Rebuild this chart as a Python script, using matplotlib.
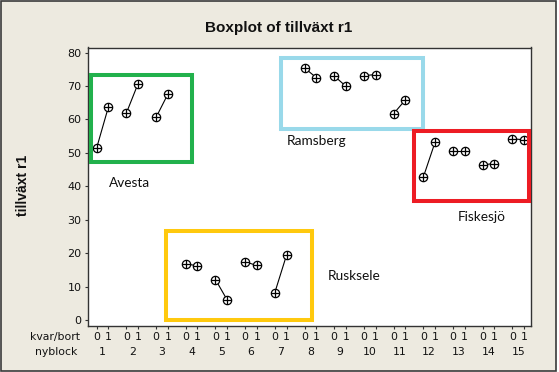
import matplotlib
matplotlib.use('Agg')
import matplotlib.pyplot as plt
from matplotlib.patches import Rectangle
from matplotlib.transforms import blended_transform_factory

# ---- data ----
blocks = list(range(1, 16))
levels = [0, 1]
values_0 = [51.5, 61.9, 60.6, 16.8, 12.1, 17.4, 8.2, 75.4, 73.0, 73.1, 61.7, 42.7, 50.4, 46.4, 54.2]
values_1 = [63.7, 70.7, 67.5, 16.2, 6.0, 16.3, 19.4, 72.5, 69.9, 73.4, 65.8, 53.1, 50.4, 46.8, 53.9]
y_ticks = [0, 10, 20, 30, 40, 50, 60, 70, 80]
title = "Boxplot of tillväxt r1"
ylabel = "tillväxt r1"
row_names = ["kvar/bort", "nyblock"]
regions = ["Avesta", "Ramsberg", "Fiskesjö", "Rusksele"]

W, H = 559, 372
fig = plt.figure(figsize=(W / 100, H / 100), dpi=100)
fig.patch.set_facecolor('white')


def fx(px):
    return px / W


def fy(py):
    return 1 - py / H


bg = Rectangle((fx(0.6), fy(371.4)), 555.5 / W, 370.8 / H, transform=fig.transFigure,
               facecolor='#EDEAE0', edgecolor='#3a3a3a', lw=1.2, zorder=-10)
fig.add_artist(bg)

ax = fig.add_axes([fx(87.7), fy(326), (531 - 87.7) / W, (326 - 47.5) / H])
ax.set_facecolor('white')

within = 0.394
pos0 = [b - 1 for b in blocks]
pos1 = [b - 1 + within for b in blocks]

for p0, p1, v0, v1 in zip(pos0, pos1, values_0, values_1):
    ax.plot([p0, p1], [v0, v1], color='black', lw=0.8, zorder=2)

all_pos = pos0 + pos1
all_vals = values_0 + values_1
ax.plot(all_pos, all_vals, ls='none', marker='o', ms=6.0, mfc='white', mec='black', mew=0.9, zorder=3)
ax.plot(all_pos, all_vals, ls='none', marker='+', ms=6.0, mew=0.9, color='black', zorder=4)

ax.set_xlim(-0.303, 14.628)
ax.set_ylim(-1.8, 81.5)
ax.set_yticks(y_ticks)
ax.set_yticklabels([str(t) for t in y_ticks], fontsize=8, family='DejaVu Sans', color='#111111')
tick_pos = sorted(all_pos)
ax.set_xticks(tick_pos)
ax.set_xticklabels([])
ax.tick_params(direction='out', length=2.5, width=0.8, color='#333333', pad=2)
for s in ax.spines.values():
    s.set_color('#333333')
    s.set_linewidth(1.0)

trans = blended_transform_factory(ax.transData, ax.transAxes)
for b in blocks:
    for lv in levels:
        p = b - 1 + lv * within
        ax.text(p, -0.0406, str(lv), transform=trans, ha='center', va='center',
                fontsize=7.8, family='DejaVu Sans', color='#111111')
    ax.text(b - 1 + within / 2, -0.0923, str(b), transform=trans, ha='center', va='center',
            fontsize=7.8, family='DejaVu Sans', color='#111111')

fig.text(fx(80), fy(337.3), row_names[0], ha='right', va='center', fontsize=7.8,
         family='DejaVu Sans', color='#111111')
fig.text(fx(77), fy(351.7), row_names[1], ha='right', va='center', fontsize=7.8,
         family='DejaVu Sans', color='#111111')

fig.text(fx(278.5), fy(28), title, ha='center', va='center', fontsize=11,
         fontweight='bold', family='Liberation Sans', color='#111111')
fig.text(fx(23), fy(185), ylabel, ha='center', va='center', rotation=90, fontsize=10,
         fontweight='bold', family='Liberation Sans', color='#111111')

# annotation rectangles (pixel coords: left, top, right, bottom of stroke centre)
boxes = [
    ((91, 75, 192, 162), '#22B14C'),
    ((280.7, 58, 422.8, 128.8), '#99D9EA'),
    ((414, 131, 528.5, 201), '#ED1C24'),
    ((166, 231.3, 312.3, 319.7), '#FFC90E'),
]
for (l, t, r, btm), col in boxes:
    rect = Rectangle((fx(l), fy(btm)), (r - l) / W, (btm - t) / H, transform=fig.transFigure,
                     facecolor='none', edgecolor=col, lw=2.9, zorder=5)
    fig.add_artist(rect)

label_pos = [(130, 182.7), (317, 141), (481.7, 217.3), (354, 276)]
for name, (x, y) in zip(regions, label_pos):
    fig.text(fx(x), fy(y), name, ha='center', va='center', fontsize=9.8,
             family='Lato', color='#111111')

fig.savefig('out.png', dpi=100, facecolor=fig.get_facecolor())
